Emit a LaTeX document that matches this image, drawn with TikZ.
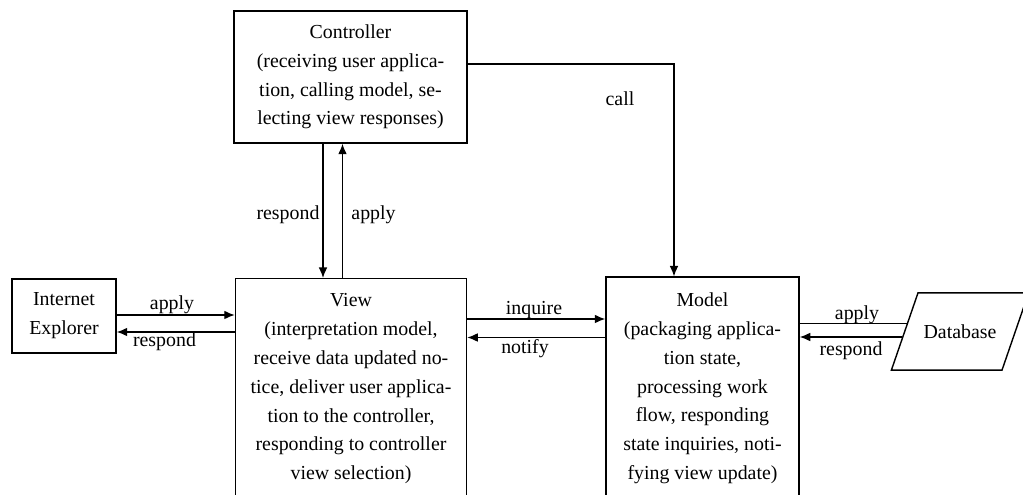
\documentclass[tikz,border=0pt]{standalone}
\usepackage{fontspec}
\setmainfont{Liberation Serif}
\usepackage{tikz}
\usetikzlibrary{calc}
\usetikzlibrary{shapes.geometric}
\usetikzlibrary{arrows.meta,positioning}

\begin{document}
\begin{tikzpicture}[
  font=\fontsize{11.3}{16.4}\selectfont,
  block/.style={rectangle,draw=black,line width=0.8pt,align=center},
  link/.style={line width=0.8pt,arrows=-{Latex[length=6pt,width=5pt]}}
]

\coordinate (LEFTCORNER) at (0,0);
\useasboundingbox (LEFTCORNER) rectangle ++(20.46,9.9);
\clip (LEFTCORNER) rectangle ++(20.46,9.9);

%%%%%%%%%%%%%%%%%%%
% draw boxes
\node[block,minimum width=4.66cm,minimum height=2.64cm] at ($(LEFTCORNER)+(7.01,8.36)$) (CONTROLLER) {Controller\\(receiving user applica-\\tion, calling model, se-\\lecting view responses)};
\node[block,minimum width=2.08cm,minimum height=1.48cm] at ($(LEFTCORNER)+(1.28,3.58)$) (BROWSER) {Internet\\Explorer};
\node[block,anchor=north,minimum width=4.62cm,text height=106.4pt,text depth=20pt,inner ysep=8pt] at ($(LEFTCORNER)+(7.02,4.34)$) (VIEW) {View\\(interpretation model,\\receive data updated no-\\tice, deliver user applica-\\tion to the controller,\\responding to controller\\view selection)};
\node[block,anchor=north,minimum width=3.86cm,text height=106.4pt,text depth=20pt,inner ysep=8.7pt] at ($(LEFTCORNER)+(14.05,4.37)$) (MODEL) {Model\\(packaging applica-\\tion state,\\processing work\\flow, responding\\state inquiries, noti-\\fying view update)};
\node[trapezium,trapezium left angle=71,trapezium right angle=109,draw=black,line width=0.8pt,inner xsep=3.2pt,inner ysep=18pt] at ($(LEFTCORNER)+(19.2,3.27)$) (DATABASE) {Database};

%%%%%%%%%%%%%%%%%%%
% draw links
\coordinate (BAPPLYPT) at ($(BROWSER.east)+(0,0.02)$);
\draw[link] (BAPPLYPT) -- (BAPPLYPT -| VIEW.west);
\coordinate (BRESPPT) at ($(VIEW.north west)+(0,-1.08)$);
\draw[link] (BRESPPT) -- (BRESPPT -| BROWSER.east);

\coordinate (CRESPPT) at ($(CONTROLLER.south)+(-0.55,0)$);
\draw[link] (CRESPPT) -- (CRESPPT |- VIEW.north);
\coordinate (CAPPLYPT) at ($(VIEW.north)+(-0.17,0)$);
\draw[link] (CAPPLYPT) -- (CAPPLYPT |- CONTROLLER.south);

\coordinate (CALLPT) at ($(CONTROLLER.east)+(0,0.26)$);
\draw[link] (CALLPT) -| ($(MODEL.north)+(-0.57,0)$);

\coordinate (INQPT) at ($(VIEW.north east)+(0,-0.82)$);
\draw[link] (INQPT) -- (INQPT -| MODEL.west);
\coordinate (NOTPT) at ($(MODEL.north west)+(0,-1.22)$);
\draw[link] (NOTPT) -- (NOTPT -| VIEW.east);

\coordinate (DAPPLYPT) at ($(DATABASE.bottom left corner)!0.6!(DATABASE.top left corner)$);
\draw[line width=0.8pt] (DAPPLYPT) -- (DAPPLYPT -| MODEL.east);
\coordinate (DRESPPT) at ($(DATABASE.bottom left corner)!0.43!(DATABASE.top left corner)$);
\draw[link] (DRESPPT) -- (DRESPPT -| MODEL.east);

%%%%%%%%%%%%%%%%%%%
% draw labels
\node at ($(LEFTCORNER)+(3.44,3.80)$) (BAPPLY) {apply};
\node at ($(LEFTCORNER)+(3.29,3.06)$) (BRESP) {respond};
\node at ($(LEFTCORNER)+(5.76,5.60)$) (CRESP) {respond};
\node at ($(LEFTCORNER)+(7.47,5.60)$) (CAPPLY) {apply};
\node at ($(LEFTCORNER)+(12.40,7.92)$) (CALL) {call};
\node at ($(LEFTCORNER)+(10.68,3.70)$) (INQ) {inquire};
\node at ($(LEFTCORNER)+(10.50,2.92)$) (NOT) {notify};
\node at ($(LEFTCORNER)+(17.14,3.60)$) (DAPPLY) {apply};
\node at ($(LEFTCORNER)+(17.02,2.88)$) (DRESP) {respond};

\end{tikzpicture}
\end{document}
